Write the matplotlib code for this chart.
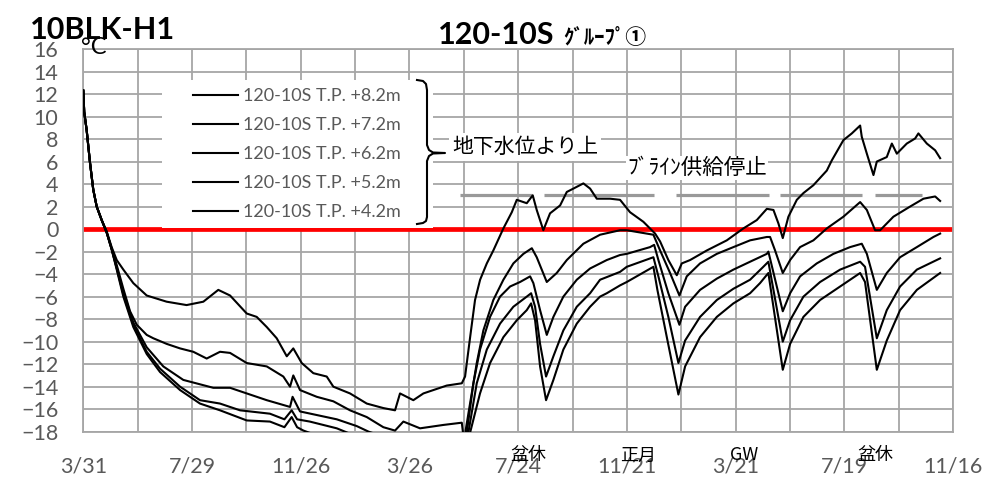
import matplotlib.pyplot as plt
from matplotlib.lines import Line2D
from matplotlib.patches import Rectangle

plt.rcParams['font.family'] = ['Lato', 'Noto Sans CJK JP', 'DejaVu Sans']

W, H = 986, 484

# x = days since 3/31 (start of record)
tick_days = [0, 120, 240, 360, 480, 600, 720, 840, 960]
tick_labels = ['3/31', '7/29', '11/26', '3/26', '7/24', '11/21', '3/21', '7/19', '11/16']

series_names = ['120-10S T.P. +8.2m', '120-10S T.P. +7.2m', '120-10S T.P. +6.2m',
                '120-10S T.P. +5.2m', '120-10S T.P. +4.2m']

s1_x = [0, 1, 3.7, 7.4, 11, 14.8, 20.3, 25.8, 31.3, 36.9, 44.2, 55.2, 70, 92, 114, 132.5, 149, 162,
        180.4, 191.4, 202.5, 213.5, 224.6, 231.8, 241.1, 253.9, 268.7, 276, 294.4, 312.9, 331.2,
        344.1, 349.6, 364.3, 375.4, 401.2, 417.8, 421.4, 427, 432.4, 438, 445.4, 452.6, 463.7, 473,
        478.5, 489.5, 496.1, 500.5, 507.8, 515.2, 526.3, 533.7, 541, 552, 559.4, 566.8, 581.5, 592.5,
        603.5, 618.2, 631.2, 636.7, 645.8, 655.1, 660.6, 669.8, 688.2, 710.3, 728.6, 743.4, 754.5,
        761.8, 767.3, 772.1, 778.3, 787.6, 794.9, 805.9, 820.7, 826.2, 839, 848.3, 857.5, 859.3,
        864.9, 872.2, 875.9, 886.9, 892.5, 898, 909, 918.2, 921.8, 931.1, 940.3, 945.8]
s1_y = [12.3, 10.4, 8.8, 5.9, 3.5, 2.0, 0.8, -0.2, -1.6, -2.75, -3.6, -4.8, -5.9, -6.45, -6.75, -6.45,
        -5.4, -5.9, -7.5, -7.8, -8.7, -9.7, -11.3, -10.6, -11.9, -12.8, -13.1, -14.0, -14.6, -15.5,
        -15.9, -16.1, -14.6, -15.2, -14.6, -13.9, -13.7, -13.1, -9.6, -6.3, -4.5, -3.05, -1.9, 0.06,
        1.5, 2.6, 2.3, 3.0, 1.7, -0.1, 1.4, 2.1, 3.3, 3.6, 4.06, 3.6, 2.7, 2.7, 2.6, 1.5, 0.65, -0.4,
        -1.1, -2.75, -4.1, -3.05, -2.75, -1.9, -1.0, 0.06, 0.8, 1.8, 1.7, 0.5, -0.8, 1.1, 2.6, 3.2,
        3.9, 5.2, 6.1, 7.9, 8.5, 9.2, 8.2, 6.7, 4.8, 6.0, 6.4, 7.6, 6.7, 7.6, 8.05, 8.5, 7.6, 7.0, 6.3]

s2_x = [0, 1, 3.7, 7.4, 11, 14.8, 20.3, 25.8, 31.3, 36.9, 44.2, 51.6, 59, 70, 77.3, 92.1, 106.8,
        121.4, 136.2, 150.9, 162, 180.4, 202.5, 220.8, 228.2, 231.8, 239.2, 257.7, 276, 294.4, 312.9,
        331.2, 344.1, 353.3, 371.7, 397.4, 417.8, 420.5, 421.4, 426.9, 434.3, 441.6, 452.6, 463.7,
        474.7, 485.8, 495.1, 500.5, 511.6, 522.6, 533.7, 552, 570.4, 592.5, 599.9, 629.3, 636.7,
        647.7, 658, 666.1, 680.8, 699.3, 717.6, 736, 754.5, 758.1, 763.6, 772.1, 780.2, 791.2, 805.9,
        820.7, 839, 857.5, 864.9, 874, 879.6, 894.2, 912.6, 927.4, 940.3, 945.8]
s2_y = [12.3, 10.4, 8.8, 5.9, 3.5, 2.0, 0.8, -0.3, -1.7, -3.2, -5.3, -7.3, -8.5, -9.4, -9.7, -10.2,
        -10.6, -10.9, -11.5, -10.9, -11.0, -11.9, -12.2, -13.1, -14.0, -13.0, -14.3, -14.9, -15.3,
        -16.1, -16.7, -17.6, -17.9, -17.1, -17.7, -17.4, -17.2, -19.0, -18.2, -15.5, -11.9, -9.0,
        -6.3, -4.5, -3.05, -2.2, -1.7, -2.5, -4.7, -3.9, -2.75, -1.3, -0.5, -0.1, -0.1, -0.5, -1.9,
        -3.9, -5.9, -4.2, -3.05, -2.2, -1.6, -1.0, -0.7, -0.7, -1.9, -3.9, -2.75, -1.6, -1.0, 0.06,
        1.1, 2.4, 1.7, -0.1, -0.1, 1.1, 2.0, 2.7, 2.9, 2.5]

s3_x = [0, 1, 3.7, 7.4, 11, 14.8, 20.3, 25.8, 31.3, 36.9, 44.2, 55.2, 70, 88.3, 110.4, 143.5, 162,
        180.4, 202.5, 228.2, 231, 239.2, 279.8, 301.8, 315, 330, 380, 418, 421, 423.3, 430.6, 437.9,
        449, 460, 471.1, 482.1, 493.2, 496.8, 504.2, 511.6, 518.9, 529.9, 544.7, 559.4, 577.8, 592.5,
        599.9, 625.6, 630.1, 634.8, 645.8, 658, 664.3, 680.8, 699.3, 717.6, 736, 754.5, 756.2, 772.1,
        780.2, 791.2, 809.6, 828, 846.4, 859.3, 864.9, 875.9, 886.9, 901.6, 920.1, 938.4, 945.8]
s3_y = [12.3, 10.4, 8.8, 5.9, 3.5, 2.0, 0.8, -0.3, -1.8, -3.4, -5.6, -8.3, -10.5, -12.2, -13.4, -14.1,
        -14.1, -14.6, -15.2, -15.8, -14.9, -16.2, -16.9, -17.5, -18.0, -18.4, -18.8, -18.8, -19.5,
        -18.1, -13.7, -10.7, -7.8, -6.0, -5.1, -4.7, -4.2, -4.8, -7.2, -9.4, -7.8, -6.0, -4.5, -3.5,
        -2.75, -2.3, -2.2, -1.6, -1.4, -2.75, -5.7, -8.5, -6.9, -5.4, -4.4, -3.6, -2.9, -2.2, -2.0,
        -7.3, -5.7, -4.2, -3.05, -2.2, -1.6, -1.3, -2.2, -5.4, -3.9, -2.5, -1.6, -0.7, -0.4]

s4_x = [0, 1, 3.7, 7.4, 11, 14.8, 20.3, 25.8, 31.3, 36.9, 44.2, 55.2, 70, 84.7, 106.8, 128.8, 150.9,
        173, 206, 222, 230, 236, 250, 279.8, 295, 330, 380, 418, 421, 425, 434.3, 445.4, 460, 474.7,
        489.5, 494.3, 498.7, 504.2, 510.8, 518.9, 529.9, 544.7, 559.4, 570.4, 592.5, 599.9, 629.3,
        634.8, 645.8, 656.9, 664.3, 680.8, 699.3, 717.6, 736, 750, 756.2, 772.1, 780.2, 794.9, 813.3,
        835.4, 857.5, 862.9, 875.9, 886.9, 901.6, 920.1, 945.8]
s4_y = [12.3, 10.4, 8.8, 5.9, 3.5, 2.0, 0.8, -0.3, -1.8, -3.5, -5.8, -8.5, -10.9, -12.4, -14.0, -15.2,
        -15.5, -16.1, -16.4, -16.9, -16.1, -16.9, -17.1, -17.7, -18.2, -18.6, -19.0, -19.0, -19.7,
        -18.1, -13.7, -10.7, -8.4, -6.9, -6.0, -5.7, -6.9, -10.2, -13.1, -11.3, -9.0, -6.9, -5.7,
        -4.5, -3.8, -3.35, -2.5, -4.2, -7.8, -11.9, -9.9, -7.8, -6.3, -5.3, -4.5, -3.4, -2.9, -10.0,
        -8.1, -6.0, -4.7, -3.6, -2.9, -3.35, -9.7, -7.2, -5.1, -3.6, -2.6]

s5_x = [0, 1, 3.7, 7.4, 11, 14.8, 20.3, 25.8, 31.3, 36.9, 44.2, 55.2, 70, 84.7, 106.8, 128.8, 150.9,
        180.4, 206, 222, 230, 236, 243, 260, 300, 360, 418, 422, 426.9, 437.9, 449, 463.7, 478.5,
        489.5, 494.3, 498.7, 504.2, 510.8, 518.9, 529.9, 544.7, 559.4, 570.4, 577.8, 592.5, 599.9,
        629.3, 633.7, 644.1, 656.9, 664.3, 680.8, 699.3, 717.6, 736, 747, 756.2, 772.1, 780.2, 794.9,
        813.3, 835.4, 857.5, 862.9, 875.9, 886.9, 901.6, 920.1, 945.8]
s5_y = [12.3, 10.4, 8.8, 5.9, 3.5, 2.0, 0.8, -0.3, -1.8, -3.6, -6.0, -8.7, -11.1, -12.7, -14.3, -15.5,
        -16.1, -17.0, -17.1, -17.6, -16.7, -17.6, -17.9, -18.4, -18.8, -19.3, -19.5, -20.0, -18.1,
        -14.6, -11.9, -9.6, -8.1, -7.2, -6.6, -8.1, -12.2, -15.2, -13.4, -10.7, -8.4, -6.9, -6.0,
        -5.7, -5.0, -4.7, -3.35, -5.4, -9.6, -14.7, -12.2, -9.6, -7.8, -6.6, -5.7, -4.8, -3.9, -12.5,
        -10.2, -7.8, -6.3, -5.1, -3.9, -4.7, -12.5, -9.9, -7.2, -5.4, -3.9]

# brine supply stopped periods (gray line at 3 degC)
brine_stop_start = [416, 509, 654.5, 768.6, 874.3]
brine_stop_end = [495.7, 630, 757, 859.7, 926.2]
brine_level = 3

holiday_names = ['盆休', '正月', 'GW', '盆休']
holiday_days = [491.5, 612.2, 729.4, 874]

GRID = '#A6A6A6'
TICK = '#595959'


def fx(px):
    return px / W


def fy(py):
    return 1 - py / H


fig = plt.figure(figsize=(W / 100, H / 100), dpi=100)
ax = fig.add_axes([fx(83.3), fy(431.7), fx(953) - fx(83.3), fy(49) - fy(431.7)])

ax.set_xlim(0, 960)
ax.set_ylim(-18, 16)
ax.set_axisbelow(True)
ax.set_xticks(range(0, 961, 60))
ax.set_xticklabels([tick_labels[tick_days.index(d)] if d in tick_days else '' for d in range(0, 961, 60)])
ax.set_yticks(range(-18, 17, 2))
ax.grid(True, color=GRID, lw=1.3)
ax.tick_params(axis='both', length=0, colors=TICK, labelsize=15.5)
ax.tick_params(axis='x', pad=18)
ax.tick_params(axis='y', pad=18)
for sp in ax.spines.values():
    sp.set_color(GRID)
    sp.set_linewidth(1.3)

ax.axhline(0, color='#FF0000', lw=3.4, zorder=2.5)
for a, b in zip(brine_stop_start, brine_stop_end):
    ax.plot([a, b], [brine_level, brine_level], color='#999999', lw=2.3, zorder=2,
            solid_capstyle='butt')

lines = []
for xs, ys, name in zip([s1_x, s2_x, s3_x, s4_x, s5_x], [s1_y, s2_y, s3_y, s4_y, s5_y], series_names):
    ln, = ax.plot(xs, ys, color='black', lw=1.5, zorder=3, label=name)
    lines.append(ln)

# legend box
ax.add_patch(Rectangle((fx(162), fy(228.5)), fx(433) - fx(162), fy(80) - fy(228.5),
                       transform=fig.transFigure, facecolor='white', edgecolor='none', zorder=4))
leg = ax.legend(handles=lines, loc='upper left', bbox_to_anchor=(fx(193), fy(88)),
                bbox_transform=fig.transFigure, frameon=False, fontsize=13, labelcolor=TICK,
                handlelength=2.5, handletextpad=0.28, borderpad=0, borderaxespad=0,
                labelspacing=0.72)
leg.set_zorder(5)

# brace
bx = [417, 423, 426, 427, 427, 429, 433, 445, 433, 429, 427, 427, 426, 423, 417]
by = [80, 81, 84, 90, 145, 150, 152.5, 153, 153.5, 156, 161, 217, 221, 223, 224]
fig.add_artist(Line2D([fx(v) for v in bx], [fy(v) for v in by], color='black', lw=1.5))

fig.text(fx(452), fy(147), '地下水位より上', family=['Noto Sans CJK JP'], fontsize=15,
         va='center', ha='left', bbox=dict(facecolor='white', edgecolor='none', pad=2))
fig.text(fx(627), fy(168), 'ﾌﾞﾗｲﾝ供給停止', family=['Noto Sans CJK JP'], fontsize=15.5,
         va='center', ha='left', bbox=dict(facecolor='white', edgecolor='none', pad=1))

for name, d in zip(holiday_names, holiday_days):
    ax.text(d, -0.062, name, transform=ax.get_xaxis_transform(), family=['Noto Sans CJK JP'],
            fontsize=13, ha='center', va='center', color='black')

fig.text(fx(30), fy(30), '10BLK-H1', fontsize=22, fontweight='bold', va='center', ha='left')
fig.text(fx(438), fy(35), '120-10S', fontsize=22, fontweight='bold', va='center', ha='left')
fig.text(fx(563), fy(37), 'ｸﾞﾙｰﾌﾟ①', family=['Noto Sans CJK JP'], fontsize=15,
         fontweight='bold', va='center', ha='left')
fig.text(fx(81), fy(48), '°C', fontsize=17, va='center', ha='left')

fig.savefig('out.png', dpi=100)
